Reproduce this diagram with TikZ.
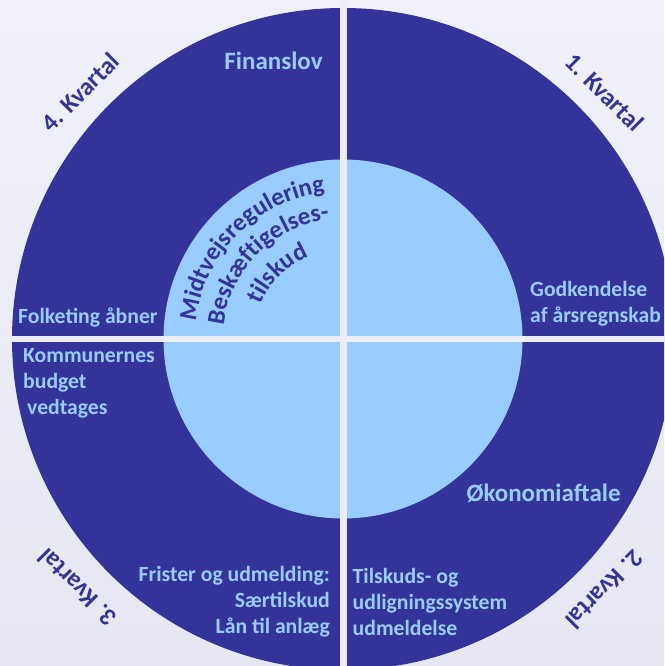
\documentclass[tikz,border=0pt]{standalone}
\usepackage{fontspec}
\setmainfont{Carlito}
\usetikzlibrary{positioning, calc, decorations.text}
\definecolor{darkblue}{RGB}{51,51,153}
\definecolor{lightblue}{RGB}{153,204,255}
\definecolor{bgtop}{RGB}{240,240,250}
\definecolor{bgbottom}{RGB}{231,231,243}
\definecolor{gapcol}{RGB}{237,237,247}
\newcommand{\arcfont}{\bfseries\fontsize{25}{27}\selectfont\color{darkblue}}

\begin{document}
\begin{tikzpicture}[x=1pt, y=1pt, inner sep=0pt,
  lbl/.style={text=lightblue, font=\bfseries\fontsize{21.7}{26}\selectfont},
  biglbl/.style={text=lightblue, font=\bfseries\fontsize{25}{28}\selectfont},
  qtr/.style={text=darkblue, font=\bfseries\fontsize{25}{28}\selectfont}]

\clip (0,0) rectangle (664,666);
\shade[top color=bgtop, bottom color=bgbottom] (0,0) rectangle (664,666);

\coordinate (c) at (343,327);
\fill[darkblue] (c) circle (331);
\fill[lightblue] (c) circle (179.5);
\fill[gapcol] (339.5,0) rectangle (346.5,666);
\fill[gapcol] (0,324) rectangle (664,330);

\path[decorate, decoration={text along path, text align=center,
    text={|\arcfont|Midtvejsregulering}}]
  ($(c)+(180:148)$) arc[start angle=180, end angle=90, radius=148];
\path[decorate, decoration={text along path, text align=center,
    text={|\arcfont|Beskæftigelses-}}]
  ($(c)+(180:120)$) arc[start angle=180, end angle=90, radius=120];
\path[decorate, decoration={text along path, text align=center,
    text={|\arcfont|tilskud}}]
  ($(c)+(180:89)$) arc[start angle=180, end angle=90, radius=89];

\node[biglbl] (finanslov) at (273.5,605.5) {Finanslov};
\node[lbl, anchor=west] (folketing) at (18,349) {Folketing åbner};
\node[lbl, anchor=west, align=left] (godkendelse) at (530,362) {Godkendelse\\af årsregnskab};
\node[lbl, anchor=west, align=left] (budget) at (23,283) {Kommunernes\\budget\\\hspace{4pt}vedtages};
\node[biglbl] (oekonomi) at (543.5,172.5) {Økonomiaftale};
\node[lbl, anchor=east, align=right] (frister) at (330,64) {Frister og udmelding:\\Særtilskud\\Lån til anlæg};
\node[lbl, anchor=west, align=left] (tilskud) at (352.5,64) {Tilskuds- og\\udligningssystem\\udmeldelse};

\node[qtr, rotate=-45] (q1) at (605,574) {1. Kvartal};
\node[qtr, rotate=-135] (q2) at (605,76) {2. Kvartal};
\node[qtr, rotate=135] (q3) at (77,78) {3. Kvartal};
\node[qtr, rotate=45] (q4) at (80,574) {4. Kvartal};

\end{tikzpicture}
\end{document}
